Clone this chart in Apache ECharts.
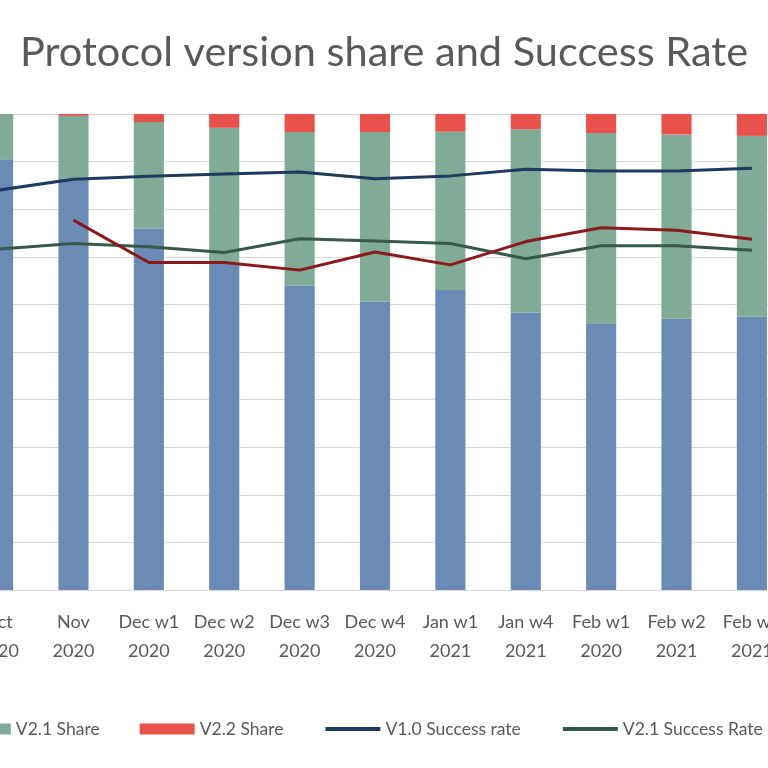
<!DOCTYPE html>
<html>
<head>
<meta charset="utf-8">
<script src="https://cdn.jsdelivr.net/npm/echarts@6/dist/echarts.min.js"></script>
<style>
  html, body { margin: 0; padding: 0; background: #fff; }
  #chart { width: 768px; height: 768px; }
</style>
</head>
<body>
<div id="chart"></div>
<script>
var categories = ['Oct\n2020', 'Nov\n2020', 'Dec w1\n2020', 'Dec w2\n2020', 'Dec w3\n2020', 'Dec w4\n2020',
                  'Jan w1\n2021', 'Jan w4\n2021', 'Feb w1\n2020', 'Feb w2\n2021', 'Feb w3\n2021'];

// share of traffic per protocol version (%)
var v10Share = [90.5, 86.5, 75.9, 68.7, 63.9, 60.6, 63.0, 58.3, 55.9, 57.0, 57.4];
var v21Share = [9.5, 13.1, 22.4, 28.4, 32.3, 35.6, 33.3, 38.5, 40.1, 38.7, 38.0];
var v22Share = [0, 0.4, 1.7, 2.9, 3.8, 3.8, 3.7, 3.2, 4.0, 4.3, 4.6];

// success rate per protocol version (%)
var v10Success = [84.0, 86.3, 86.9, 87.4, 87.8, 86.4, 87.0, 88.4, 88.0, 88.0, 88.6];
var v21Success = [71.6, 72.8, 72.1, 70.9, 73.8, 73.3, 72.8, 69.6, 72.3, 72.3, 71.4];
var v22Success = [null, 77.7, 68.8, 68.8, 67.2, 71.0, 68.3, 73.2, 76.1, 75.6, 73.7];

var font = 'Lato';

function barSeries(name, data, color) {
    return {
        name: name,
        type: 'bar',
        stack: 'share',
        barWidth: '40%',
        data: data,
        itemStyle: { color: color },
        emphasis: { disabled: true }
    };
}

function lineSeries(name, data, color) {
    return {
        name: name,
        type: 'line',
        data: data,
        symbol: 'none',
        lineStyle: { color: color, width: 3 },
        itemStyle: { color: color },
        emphasis: { disabled: true }
    };
}

function lineLegend(name) {
    // hide the dot, keep only the stroke
    return { name: name, itemStyle: { opacity: 0 }, lineStyle: { width: 4 } };
}

var myChart = echarts.init(document.getElementById('chart'));
var option = {
    animation: false,
    title: {
        text: 'Protocol version share and Success Rate',
        left: 'center',
        top: 27,
        textStyle: { fontFamily: font, fontSize: 41.5, fontWeight: 'normal', color: '#595959' }
    },
    legend: {
        left: -233,
        top: 715,
        width: 1400,
        itemWidth: 55,
        itemHeight: 11,
        itemGap: 40,
        textStyle: { fontFamily: font, fontSize: 17.5, color: '#595959' },
        data: [
            { name: 'V1.0 Share', icon: 'rect' },
            { name: 'V2.1 Share', icon: 'rect' },
            { name: 'V2.2 Share', icon: 'rect' },
            lineLegend('V1.0 Success rate'),
            lineLegend('V2.1 Success Rate'),
            lineLegend('V2.2 Success rate')
        ]
    },
    grid: {
        left: -39.6,
        right: -21.6,
        top: 114,
        bottom: 178,
        outerBoundsMode: 'none',
        containLabel: false
    },
    xAxis: {
        type: 'category',
        data: categories,
        axisTick: { show: false },
        axisLine: { lineStyle: { color: '#d9d9d9', width: 1 } },
        axisLabel: {
            fontFamily: font, fontSize: 18, color: '#595959',
            lineHeight: 29, margin: 18, interval: 0
        }
    },
    yAxis: {
        type: 'value',
        min: 0,
        max: 100,
        interval: 10,
        axisLabel: { show: false },
        axisLine: { show: false },
        axisTick: { show: false },
        splitLine: { lineStyle: { color: '#d9d9d9', width: 1 } }
    },
    series: [
        barSeries('V1.0 Share', v10Share, '#6a8bb6'),
        barSeries('V2.1 Share', v21Share, '#7fab97'),
        barSeries('V2.2 Share', v22Share, '#e8524a'),
        lineSeries('V1.0 Success rate', v10Success, '#1f3a5f'),
        lineSeries('V2.1 Success Rate', v21Success, '#375a48'),
        lineSeries('V2.2 Success rate', v22Success, '#8b1a1a')
    ]
};
myChart.setOption(option);
</script>
</body>
</html>
